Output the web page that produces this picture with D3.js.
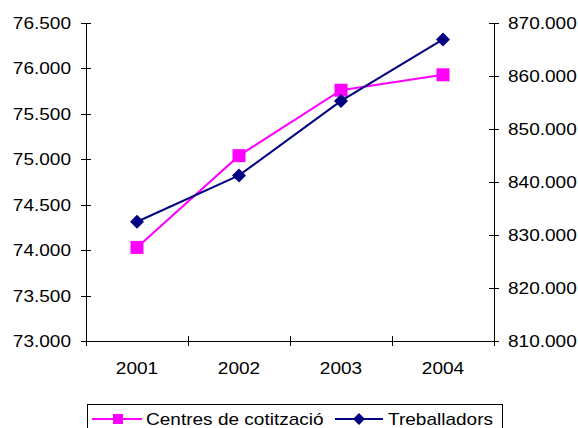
<!DOCTYPE html>
<html>
<head>
<meta charset="utf-8">
<script src="https://cdn.jsdelivr.net/npm/d3@7"></script>
<style>
  body { margin: 0; background: #fff; }
  text { font-family: "Liberation Sans", Arial, sans-serif; fill: #000; }
</style>
</head>
<body>
<div id="chart"></div>
<script>
// data
const years = ["2001", "2002", "2003", "2004"]
const centres = [74030, 75040, 75760, 75930]
const treballadors = [832500, 841250, 855300, 866900]
const leftTicks = [73000, 73500, 74000, 74500, 75000, 75500, 76000, 76500]
const rightTicks = [810000, 820000, 830000, 840000, 850000, 860000, 870000]
const seriesNames = ["Centres de cotització", "Treballadors"]

const W = 578, H = 428
const plotL = 86, plotR = 494, plotT = 23, plotB = 341
const fontSize = 17, stretch = 1.12

function label(d) {
    // thousands with a dot, like 76.500
    return d3.format(",")(d).replace(/,/g, ".")
}

const svg = d3.select("#chart").append("svg")
    .attr("width", W)
    .attr("height", H)

const x = d3.scaleBand().domain(years).range([plotL, plotR])
const yL = d3.scaleLinear().domain([73000, 76500]).range([plotB, plotT])
const yR = d3.scaleLinear().domain([810000, 870000]).range([plotB, plotT])

function stretchedText(g, tx, ty, anchor, str) {
    g.append("text")
        .attr("transform", "translate(" + tx + "," + ty + ") scale(" + stretch + ",1)")
        .attr("text-anchor", anchor)
        .attr("dominant-baseline", "central")
        .style("font-size", fontSize + "px")
        .text(str)
}

const axes = svg.append("g").attr("stroke", "#000").attr("stroke-width", 1)

// left axis
axes.append("line").attr("x1", plotL + 0.5).attr("x2", plotL + 0.5).attr("y1", plotT).attr("y2", plotB)
leftTicks.forEach(function (t) {
    const yy = Math.round(yL(t)) + 0.5
    axes.append("line").attr("x1", plotL - 5).attr("x2", plotL + 5).attr("y1", yy).attr("y2", yy)
    stretchedText(svg, plotL - 15, yy, "end", label(t))
})

// right axis
axes.append("line").attr("x1", plotR + 0.5).attr("x2", plotR + 0.5).attr("y1", plotT).attr("y2", plotB)
rightTicks.forEach(function (t) {
    const yy = Math.round(yR(t)) + 0.5
    axes.append("line").attr("x1", plotR - 5).attr("x2", plotR + 5).attr("y1", yy).attr("y2", yy)
    stretchedText(svg, plotR + 14, yy, "start", label(t))
})

// category axis
axes.append("line").attr("x1", plotL).attr("x2", plotR).attr("y1", plotB + 0.5).attr("y2", plotB + 0.5)
years.forEach(function (d) {
    const xx = Math.round(x(d)) + 0.5
    axes.append("line").attr("x1", xx).attr("x2", xx).attr("y1", plotB - 5).attr("y2", plotB + 5)
    stretchedText(svg, x(d) + x.bandwidth() / 2, 368, "middle", d)
})
axes.append("line").attr("x1", plotR + 0.5).attr("x2", plotR + 0.5).attr("y1", plotB - 5).attr("y2", plotB + 5)

const cx = function (d, i) { return x(years[i]) + x.bandwidth() / 2 }

// pink series (left axis)
svg.append("path")
    .datum(centres)
    .attr("fill", "none")
    .attr("stroke", "#ff00ff")
    .attr("stroke-width", 2)
    .attr("d", d3.line().x(cx).y(function (d) { return yL(d) }))

svg.selectAll(".sq")
    .data(centres)
    .enter().append("rect")
    .attr("class", "sq")
    .attr("x", function (d, i) { return cx(d, i) - 6.5 })
    .attr("y", function (d) { return yL(d) - 6.5 })
    .attr("width", 13)
    .attr("height", 13)
    .attr("fill", "#ff00ff")

// navy series (right axis)
svg.append("path")
    .datum(treballadors)
    .attr("fill", "none")
    .attr("stroke", "#000080")
    .attr("stroke-width", 2)
    .attr("d", d3.line().x(cx).y(function (d) { return yR(d) }))

svg.selectAll(".dm")
    .data(treballadors)
    .enter().append("path")
    .attr("class", "dm")
    .attr("transform", function (d, i) { return "translate(" + cx(d, i) + "," + yR(d) + ")" })
    .attr("d", "M0,-7L7,0L0,7L-7,0Z")
    .attr("fill", "#000080")

// legend
const lg = svg.append("g")
lg.append("rect")
    .attr("x", 87.5).attr("y", 404.5)
    .attr("width", 415).attr("height", 40)
    .attr("fill", "#fff")
    .attr("stroke", "#000")

const ly = 419
lg.append("line").attr("x1", 92).attr("x2", 142).attr("y1", ly).attr("y2", ly)
    .attr("stroke", "#ff00ff").attr("stroke-width", 2)
lg.append("rect").attr("x", 113).attr("y", ly - 5).attr("width", 10).attr("height", 10)
    .attr("fill", "#ff00ff")
stretchedText(lg, 146, ly, "start", seriesNames[0])

lg.append("line").attr("x1", 335).attr("x2", 383).attr("y1", ly).attr("y2", ly)
    .attr("stroke", "#000080").attr("stroke-width", 2)
lg.append("path").attr("transform", "translate(359," + ly + ")")
    .attr("d", "M0,-6L6,0L0,6L-6,0Z").attr("fill", "#000080")
stretchedText(lg, 388, ly, "start", seriesNames[1])
</script>
</body>
</html>
